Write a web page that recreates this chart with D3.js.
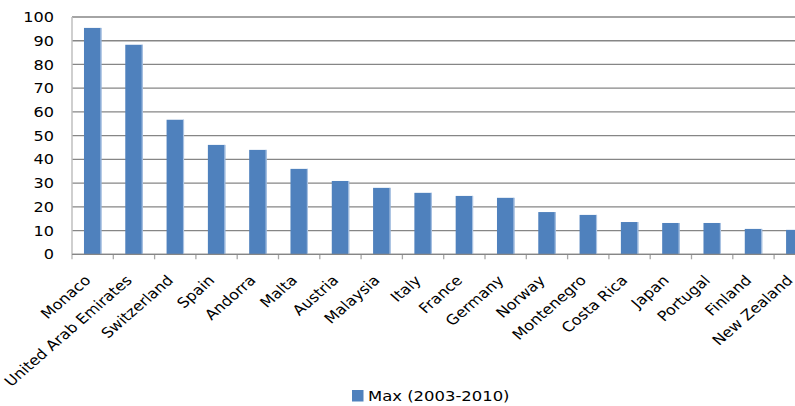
<!DOCTYPE html>
<html lang="en">
<head>
<meta charset="UTF-8">
<title>Max (2003-2010)</title>
<script src="https://d3js.org/d3.v7.min.js"></script>
<style>
body { margin: 0; background: #fff; }
svg { display: block; }
text { font-family: "DejaVu Sans", sans-serif; fill: #000; }
.grid line { stroke: #868686; stroke-width: 1.3; }
</style>
</head>
<body>
<svg id="chart" width="795" height="406"></svg>
<script>
const countries = ["Monaco", "United Arab Emirates", "Switzerland", "Spain", "Andorra", "Malta",
  "Austria", "Malaysia", "Italy", "France", "Germany", "Norway", "Montenegro", "Costa Rica",
  "Japan", "Portugal", "Finland", "New Zealand"];
const maxValues = [95.4, 88.3, 56.7, 46.1, 44.0, 36.0, 30.9, 28.0, 25.9, 24.6, 23.8, 17.8,
  16.6, 13.6, 13.2, 13.2, 10.7, 10.3];
const yTicks = [0, 10, 20, 30, 40, 50, 60, 70, 80, 90, 100];
const seriesName = "Max (2003-2010)";

const svg = d3.select("#chart");
const plotLeft = 72, plotTop = 17, plotBottom = 254.3;
const band = 41.3;
const stretch = 1.15; // the original image is a bit wider than tall

const x = d3.scaleBand()
  .domain(countries)
  .range([plotLeft, plotLeft + band * countries.length])
  .paddingInner(0.58)
  .paddingOuter(0.29);

const y = d3.scaleLinear().domain([0, 100]).range([plotBottom, plotTop]);

// gridlines
svg.append("g").attr("class", "grid")
  .selectAll("line")
  .data(yTicks)
  .join("line")
  .attr("x1", plotLeft).attr("x2", 795)
  .attr("y1", d => y(d)).attr("y2", d => y(d));

// y axis line
svg.append("line")
  .attr("x1", plotLeft).attr("x2", plotLeft)
  .attr("y1", plotTop).attr("y2", plotBottom + 5)
  .attr("stroke", "#bfbfbf").attr("stroke-width", 1.5);

// y labels
svg.append("g")
  .selectAll("text")
  .data(yTicks)
  .join("text")
  .attr("transform", d => `translate(${plotLeft - 18},${y(d)}) scale(${stretch},1)`)
  .attr("dy", "0.36em")
  .attr("text-anchor", "end")
  .style("font-size", "14px")
  .text(d => d);

// category ticks
const bounds = d3.range(countries.length + 1).map(i => plotLeft + i * band);
svg.append("g")
  .selectAll("line")
  .data(bounds.slice(1))
  .join("line")
  .attr("x1", d => d).attr("x2", d => d)
  .attr("y1", plotBottom).attr("y2", plotBottom + 5)
  .attr("stroke", "#a6a6a6").attr("stroke-width", 1.3);

// bars
const bars = svg.append("g")
  .selectAll("g")
  .data(countries.map((c, i) => ({ c, v: maxValues[i] })))
  .join("g");

bars.append("rect")
  .attr("x", d => x(d.c))
  .attr("y", d => y(d.v))
  .attr("width", x.bandwidth())
  .attr("height", d => plotBottom - y(d.v))
  .attr("fill", "#4f81bd");

bars.append("rect")
  .attr("x", d => x(d.c) + x.bandwidth() - 1)
  .attr("y", d => y(d.v))
  .attr("width", 1.2)
  .attr("height", d => plotBottom - y(d.v))
  .attr("fill", "#a9c2e2");

// baseline drawn over bars
svg.append("line")
  .attr("x1", plotLeft).attr("x2", 795)
  .attr("y1", plotBottom).attr("y2", plotBottom)
  .attr("stroke", "#868686").attr("stroke-width", 1.3);

// category labels
svg.append("g")
  .selectAll("text")
  .data(countries)
  .join("text")
  .attr("transform", d => `translate(${x(d) + x.bandwidth() / 2 - 1},${plotBottom + 27}) scale(${stretch},1) rotate(-45)`)
  .attr("text-anchor", "end")
  .style("font-size", "14px")
  .text(d => d);

// legend
const legend = svg.append("g").attr("transform", "translate(352,390)");
legend.append("rect").attr("width", 11.5).attr("height", 11.5).attr("fill", "#4f81bd");
legend.append("text")
  .attr("transform", `translate(16,11) scale(${stretch},1)`)
  .style("font-size", "14.3px")
  .text(seriesName);
</script>
</body>
</html>
